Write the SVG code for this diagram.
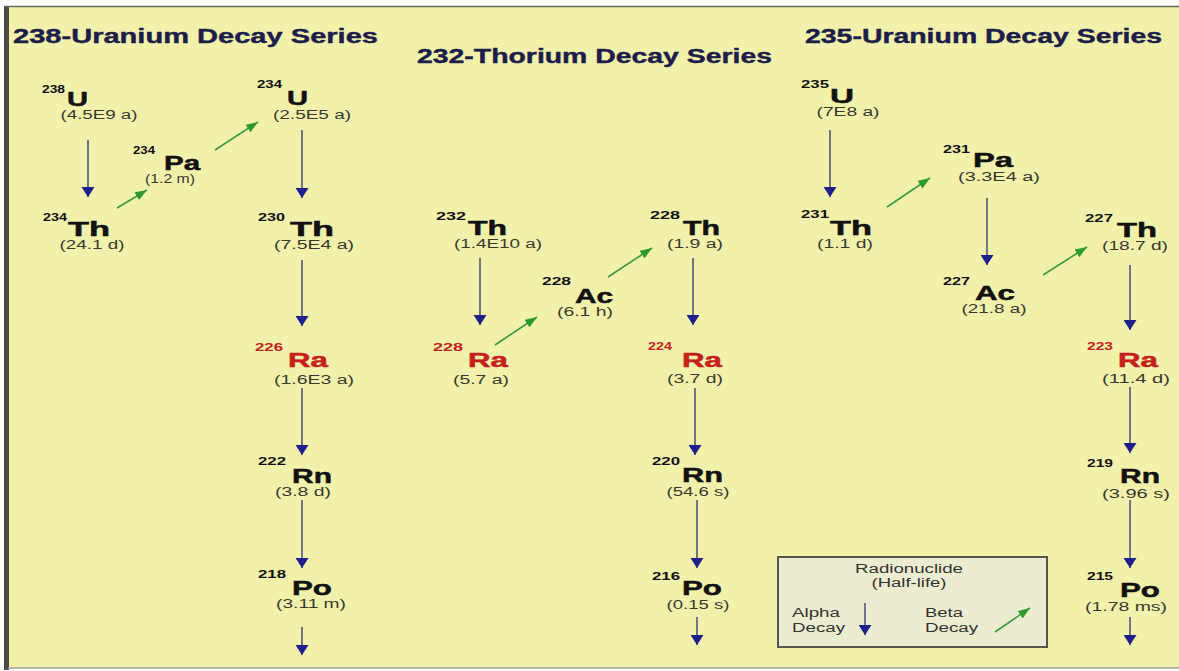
<svg xmlns="http://www.w3.org/2000/svg" width="1179" height="671" viewBox="0 0 1179 671">
<style>
text{font-family:"Liberation Sans",Arial,Helvetica,sans-serif;}
.title{font-size:20px;font-weight:bold;fill:#1d1d4a;stroke:#1d1d4a;stroke-width:0.4;}
.sup{font-size:11.5px;font-weight:bold;fill:#111;}
.sym{font-size:21px;font-weight:bold;fill:#111;stroke:#111;stroke-width:0.5;}
.hl{font-size:12px;fill:#38382e;text-anchor:middle;}
.red .sup,.red .sym{fill:#c4201c;stroke:#c4201c;}
.red .sup{stroke-width:0;}
.alpha{stroke:#55557a;stroke-width:1.6;fill:none;marker-end:url(#ah);}
.beta{stroke:#3f9a3a;stroke-width:1.6;fill:none;marker-end:url(#bh);}
.leg{font-size:12px;fill:#333;}
</style>
<defs>
<marker id="ah" markerUnits="userSpaceOnUse" viewBox="0 0 10 13" markerWidth="10" markerHeight="13" refX="10" refY="6.5" orient="auto"><path d="M0,0 L10,6.5 L0,13 z" fill="#1f1f8c"/></marker>
<marker id="bh" markerUnits="userSpaceOnUse" viewBox="0 0 12 9" markerWidth="12" markerHeight="9" refX="12" refY="4.5" orient="auto"><path d="M0,0 L12,4.5 L0,9 z" fill="#2c9a2c"/></marker>
</defs>
<rect x="0" y="0" width="1179" height="671" fill="#ffffff"/>
<rect x="8" y="7" width="1171" height="661" fill="#f1f1ac"/>
<rect x="4" y="7" width="5" height="663" fill="#4a4a44"/>
<line x1="4" y1="6.5" x2="1179" y2="6.5" stroke="#6a6a60" stroke-width="1.5"/>
<line x1="8" y1="668" x2="1179" y2="668" stroke="#a0a090" stroke-width="1.5"/>

<g id="titles">
<text class="title" x="13" y="43" textLength="365" lengthAdjust="spacingAndGlyphs">238-Uranium Decay Series</text>
<text class="title" x="417" y="63" textLength="355" lengthAdjust="spacingAndGlyphs">232-Thorium Decay Series</text>
<text class="title" x="805" y="43" textLength="357" lengthAdjust="spacingAndGlyphs">235-Uranium Decay Series</text>
</g>

<g id="connectors">
<path class="alpha" d="M88,140 V197"/>
<path class="alpha" d="M302,130 V198"/>
<path class="alpha" d="M302,260 V326"/>
<path class="alpha" d="M302,388 V455"/>
<path class="alpha" d="M302,500 V568"/>
<path class="alpha" d="M302,627 V655"/>
<path class="alpha" d="M480,258 V325"/>
<path class="alpha" d="M693,258 V325"/>
<path class="alpha" d="M695,388 V455"/>
<path class="alpha" d="M697,500 V568"/>
<path class="alpha" d="M697,617 V645"/>
<path class="alpha" d="M830,130 V197"/>
<path class="alpha" d="M987,198 V265"/>
<path class="alpha" d="M1130,265 V330"/>
<path class="alpha" d="M1130,387 V453"/>
<path class="alpha" d="M1130,500 V568"/>
<path class="alpha" d="M1130,617 V645"/>
<path class="beta" d="M117,208 L147,190"/>
<path class="beta" d="M215,150 L258,122"/>
<path class="beta" d="M495,345 L537,317"/>
<path class="beta" d="M608,277 L652,248"/>
<path class="beta" d="M887,207 L930,178"/>
<path class="beta" d="M1043,275 L1087,247"/>
</g>

<g id="u238"><text class="sup" x="42" y="93" textLength="23" lengthAdjust="spacingAndGlyphs">238</text><text class="sym" x="67" y="106" textLength="21" lengthAdjust="spacingAndGlyphs">U</text><text class="hl" x="99" y="119" textLength="77" lengthAdjust="spacingAndGlyphs">(4.5E9 a)</text></g>
<g id="th234"><text class="sup" x="43" y="221" textLength="24" lengthAdjust="spacingAndGlyphs">234</text><text class="sym" x="68" y="236" textLength="42" lengthAdjust="spacingAndGlyphs">Th</text><text class="hl" x="92" y="249" textLength="65" lengthAdjust="spacingAndGlyphs">(24.1 d)</text></g>
<g id="pa234"><text class="sup" x="133" y="154" textLength="22" lengthAdjust="spacingAndGlyphs">234</text><text class="sym" x="164" y="170" textLength="36" lengthAdjust="spacingAndGlyphs">Pa</text><text class="hl" x="170" y="183" textLength="50" lengthAdjust="spacingAndGlyphs">(1.2 m)</text></g>
<g id="u234"><text class="sup" x="257" y="88" textLength="25" lengthAdjust="spacingAndGlyphs">234</text><text class="sym" x="287" y="105" textLength="21" lengthAdjust="spacingAndGlyphs">U</text><text class="hl" x="312" y="119" textLength="78" lengthAdjust="spacingAndGlyphs">(2.5E5 a)</text></g>
<g id="th230"><text class="sup" x="258" y="221" textLength="27" lengthAdjust="spacingAndGlyphs">230</text><text class="sym" x="290" y="236" textLength="44" lengthAdjust="spacingAndGlyphs">Th</text><text class="hl" x="314" y="249" textLength="80" lengthAdjust="spacingAndGlyphs">(7.5E4 a)</text></g>
<g id="ra226" class="red"><text class="sup" x="255" y="351" textLength="28" lengthAdjust="spacingAndGlyphs">226</text><text class="sym" x="288" y="367" textLength="40" lengthAdjust="spacingAndGlyphs">Ra</text><text class="hl" x="314" y="384" textLength="80" lengthAdjust="spacingAndGlyphs">(1.6E3 a)</text></g>
<g id="rn222"><text class="sup" x="258" y="465" textLength="28" lengthAdjust="spacingAndGlyphs">222</text><text class="sym" x="292" y="483" textLength="40" lengthAdjust="spacingAndGlyphs">Rn</text><text class="hl" x="303" y="496" textLength="56" lengthAdjust="spacingAndGlyphs">(3.8 d)</text></g>
<g id="po218"><text class="sup" x="258" y="578" textLength="28" lengthAdjust="spacingAndGlyphs">218</text><text class="sym" x="292" y="595" textLength="40" lengthAdjust="spacingAndGlyphs">Po</text><text class="hl" x="311" y="608" textLength="70" lengthAdjust="spacingAndGlyphs">(3.11 m)</text></g>

<g id="th232"><text class="sup" x="436" y="220" textLength="30" lengthAdjust="spacingAndGlyphs">232</text><text class="sym" x="468" y="235" textLength="39" lengthAdjust="spacingAndGlyphs">Th</text><text class="hl" x="498" y="248" textLength="88" lengthAdjust="spacingAndGlyphs">(1.4E10 a)</text></g>
<g id="ra228" class="red"><text class="sup" x="433" y="351" textLength="30" lengthAdjust="spacingAndGlyphs">228</text><text class="sym" x="468" y="367" textLength="40" lengthAdjust="spacingAndGlyphs">Ra</text><text class="hl" x="481" y="384" textLength="56" lengthAdjust="spacingAndGlyphs">(5.7 a)</text></g>
<g id="ac228"><text class="sup" x="542" y="285" textLength="29" lengthAdjust="spacingAndGlyphs">228</text><text class="sym" x="575" y="303" textLength="38" lengthAdjust="spacingAndGlyphs">Ac</text><text class="hl" x="585" y="316" textLength="56" lengthAdjust="spacingAndGlyphs">(6.1 h)</text></g>
<g id="th228"><text class="sup" x="650" y="219" textLength="30" lengthAdjust="spacingAndGlyphs">228</text><text class="sym" x="683" y="235" textLength="37" lengthAdjust="spacingAndGlyphs">Th</text><text class="hl" x="695" y="248" textLength="56" lengthAdjust="spacingAndGlyphs">(1.9 a)</text></g>
<g id="ra224" class="red"><text class="sup" x="648" y="350" textLength="24" lengthAdjust="spacingAndGlyphs">224</text><text class="sym" x="682" y="367" textLength="40" lengthAdjust="spacingAndGlyphs">Ra</text><text class="hl" x="695" y="383" textLength="56" lengthAdjust="spacingAndGlyphs">(3.7 d)</text></g>
<g id="rn220"><text class="sup" x="652" y="465" textLength="28" lengthAdjust="spacingAndGlyphs">220</text><text class="sym" x="682" y="482" textLength="41" lengthAdjust="spacingAndGlyphs">Rn</text><text class="hl" x="698" y="496" textLength="63" lengthAdjust="spacingAndGlyphs">(54.6 s)</text></g>
<g id="po216"><text class="sup" x="652" y="580" textLength="28" lengthAdjust="spacingAndGlyphs">216</text><text class="sym" x="682" y="595" textLength="40" lengthAdjust="spacingAndGlyphs">Po</text><text class="hl" x="698" y="609" textLength="63" lengthAdjust="spacingAndGlyphs">(0.15 s)</text></g>

<g id="u235"><text class="sup" x="801" y="88" textLength="28" lengthAdjust="spacingAndGlyphs">235</text><text class="sym" x="830" y="103" textLength="24" lengthAdjust="spacingAndGlyphs">U</text><text class="hl" x="848" y="116" textLength="63" lengthAdjust="spacingAndGlyphs">(7E8 a)</text></g>
<g id="th231"><text class="sup" x="801" y="218" textLength="28" lengthAdjust="spacingAndGlyphs">231</text><text class="sym" x="830" y="235" textLength="42" lengthAdjust="spacingAndGlyphs">Th</text><text class="hl" x="845" y="248" textLength="56" lengthAdjust="spacingAndGlyphs">(1.1 d)</text></g>
<g id="pa231"><text class="sup" x="943" y="153" textLength="27" lengthAdjust="spacingAndGlyphs">231</text><text class="sym" x="973" y="167" textLength="40" lengthAdjust="spacingAndGlyphs">Pa</text><text class="hl" x="999" y="181" textLength="82" lengthAdjust="spacingAndGlyphs">(3.3E4 a)</text></g>
<g id="ac227"><text class="sup" x="943" y="285" textLength="27" lengthAdjust="spacingAndGlyphs">227</text><text class="sym" x="975" y="300" textLength="40" lengthAdjust="spacingAndGlyphs">Ac</text><text class="hl" x="994" y="313" textLength="65" lengthAdjust="spacingAndGlyphs">(21.8 a)</text></g>
<g id="th227"><text class="sup" x="1085" y="222" textLength="28" lengthAdjust="spacingAndGlyphs">227</text><text class="sym" x="1117" y="237" textLength="40" lengthAdjust="spacingAndGlyphs">Th</text><text class="hl" x="1135" y="250" textLength="66" lengthAdjust="spacingAndGlyphs">(18.7 d)</text></g>
<g id="ra223" class="red"><text class="sup" x="1087" y="350" textLength="26" lengthAdjust="spacingAndGlyphs">223</text><text class="sym" x="1118" y="367" textLength="40" lengthAdjust="spacingAndGlyphs">Ra</text><text class="hl" x="1136" y="383" textLength="68" lengthAdjust="spacingAndGlyphs">(11.4 d)</text></g>
<g id="rn219"><text class="sup" x="1087" y="467" textLength="26" lengthAdjust="spacingAndGlyphs">219</text><text class="sym" x="1120" y="483" textLength="40" lengthAdjust="spacingAndGlyphs">Rn</text><text class="hl" x="1136" y="498" textLength="68" lengthAdjust="spacingAndGlyphs">(3.96 s)</text></g>
<g id="po215"><text class="sup" x="1087" y="580" textLength="26" lengthAdjust="spacingAndGlyphs">215</text><text class="sym" x="1120" y="597" textLength="40" lengthAdjust="spacingAndGlyphs">Po</text><text class="hl" x="1126" y="611" textLength="82" lengthAdjust="spacingAndGlyphs">(1.78 ms)</text></g>

<g id="legend">
<rect x="778" y="557" width="269" height="90" fill="#ececd0" stroke="#555550" stroke-width="2"/>
<text class="leg" x="909" y="573" text-anchor="middle" textLength="108" lengthAdjust="spacingAndGlyphs">Radionuclide</text>
<text class="leg" x="909" y="587" text-anchor="middle" textLength="75" lengthAdjust="spacingAndGlyphs">(Half-life)</text>
<text class="leg" x="792" y="617" textLength="48" lengthAdjust="spacingAndGlyphs">Alpha</text>
<text class="leg" x="792" y="632" textLength="53" lengthAdjust="spacingAndGlyphs">Decay</text>
<text class="leg" x="925" y="617" textLength="38" lengthAdjust="spacingAndGlyphs">Beta</text>
<text class="leg" x="925" y="632" textLength="53" lengthAdjust="spacingAndGlyphs">Decay</text>
<path class="alpha" d="M865,603 V635"/>
<path class="beta" d="M995,632 L1030,608"/>
</g>
</svg>
